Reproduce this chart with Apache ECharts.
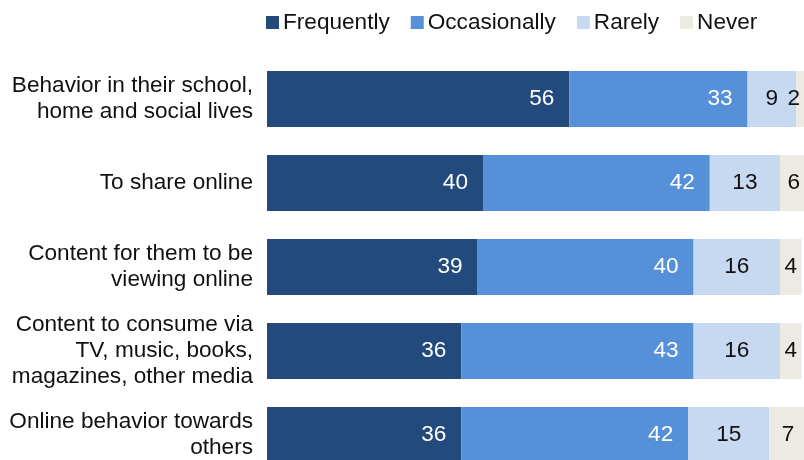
<!DOCTYPE html>
<html>
<head>
<meta charset="utf-8">
<script src="https://cdn.jsdelivr.net/npm/echarts@6/dist/echarts.min.js"></script>
<style>
  html, body { margin: 0; padding: 0; background: #fff; }
  #chart { width: 804px; height: 460px; }
</style>
</head>
<body>
<div id="chart"></div>
<script>
// Survey topics (top to bottom) and share of responses per frequency
const categories = [
  'Behavior in their school,\nhome and social lives',
  'To share online',
  'Content for them to be\nviewing online',
  'Content to consume via\nTV, music, books,\nmagazines, other media',
  'Online behavior towards\nothers'
];
const seriesNames = ['Frequently', 'Occasionally', 'Rarely', 'Never'];
const frequently   = [56, 40, 39, 36, 36];
const occasionally = [33, 42, 40, 43, 42];
const rarely       = [9, 13, 16, 16, 15];
const never        = [2, 6, 4, 4, 7];

const values = [frequently, occasionally, rarely, never];
const colors = ['#224a7d', '#5590d8', '#c6d9f0', '#edeae4'];
const labelColors = ['#ffffff', '#ffffff', '#111111', '#111111'];
const labelPositions = ['insideRight', 'insideRight', 'inside', 'inside'];
const FONT = 'Liberation Sans';
const FS = 22.6;
const CHART_W = 804;

// keep value labels of the cut-off segments inside the visible canvas
function keepInside(params) {
  const r = params.labelRect;
  const limit = CHART_W - 4;
  return { dx: Math.min(0, limit - (r.x + r.width)) };
}

const chart = echarts.init(document.getElementById('chart'));
chart.setOption({
  animation: false,
  textStyle: { fontFamily: FONT },
  legend: {
    data: seriesNames,
    left: 266,
    top: 11,
    padding: 0,
    itemWidth: 13,
    itemHeight: 13,
    itemGap: 21,
    icon: 'rect',
    textStyle: { fontFamily: FONT, fontSize: FS, color: '#111', padding: [0, 0, 0, -1] }
  },
  // plot area runs a little past the right and bottom edges, so the last segments are cut off
  grid: {
    left: 267, width: 540, top: 57, height: 420,
    containLabel: false,
    outerBoundsMode: 'none'
  },
  xAxis: { type: 'value', min: 0, max: 100, show: false },
  yAxis: {
    type: 'category',
    data: categories,
    inverse: true,
    axisLine: { show: false },
    axisTick: { show: false },
    axisLabel: {
      margin: 14,
      fontFamily: FONT,
      fontSize: FS,
      lineHeight: 26,
      color: '#111',
      align: 'right'
    }
  },
  series: seriesNames.map((name, i) => ({
    name,
    type: 'bar',
    stack: 'total',
    barWidth: 56,
    clip: false,
    data: values[i],
    itemStyle: { color: colors[i] },
    labelLayout: i === 3 ? keepInside : undefined,
    label: {
      show: true,
      position: labelPositions[i],
      distance: 15,
      fontFamily: FONT,
      fontSize: FS,
      color: labelColors[i]
    }
  }))
});
</script>
</body>
</html>
